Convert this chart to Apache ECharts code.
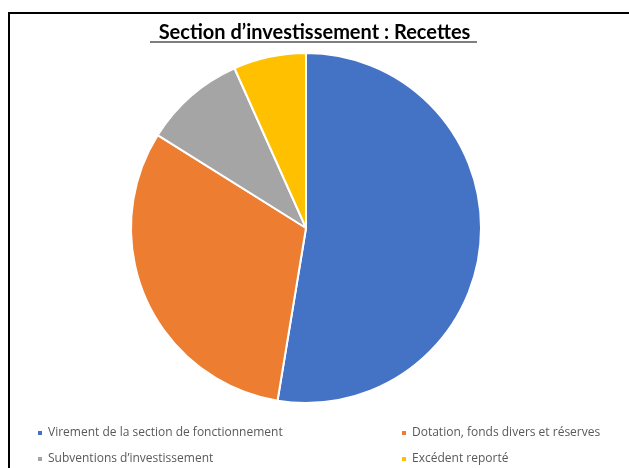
<!DOCTYPE html>
<html>
<head>
<meta charset="utf-8">
<script src="https://cdn.jsdelivr.net/npm/echarts@6/dist/echarts.min.js"></script>
<style>
  html, body { margin: 0; padding: 0; background: #fff; }
  #chart { width: 629px; height: 468px; }
</style>
</head>
<body>
<div id="chart"></div>
<script>
// données (parts en %)
const categories = [
  'Virement de la section de fonctionnement',
  'Dotation, fonds divers et réserves',
  'Subventions d\u2019investissement',
  'Excédent reporté'
]
const values = [52.6, 31.3, 9.4, 6.7]
const colors = ['#4472c4', '#ed7d31', '#a5a5a5', '#ffc000']

const chart = echarts.init(document.getElementById('chart'))

// légende sur 2 colonnes x 2 lignes : une légende par entrée
const legendPos = [[36, 425], [400, 425], [36, 451], [400, 451]]
const legends = categories.map((name, i) => ({
  data: [name],
  left: legendPos[i][0],
  top: legendPos[i][1],
  padding: 0,
  itemWidth: 6,
  itemHeight: 6,
  icon: 'rect',
  textStyle: {
    fontFamily: 'Open Sans',
    fontSize: 12,
    color: '#595959',
    lineHeight: 16
  }
}))

chart.setOption({
  animation: false,
  color: colors,
  title: {
    text: 'Section d\u2019investissement : Recettes',
    left: 'center',
    top: 18,
    textStyle: {
      fontFamily: 'Lato',
      fontSize: 20,
      fontWeight: 'bold',
      color: '#000'
    }
  },
  legend: legends,
  graphic: [
    {
      // cadre noir
      type: 'rect',
      shape: { x: 9, y: 13, width: 700, height: 500 },
      style: { fill: 'none', stroke: '#000', lineWidth: 2 },
      silent: true
    },
    {
      // soulignement du titre
      type: 'line',
      shape: { x1: 150, y1: 42, x2: 477, y2: 42 },
      style: { stroke: '#000', lineWidth: 1.2 },
      silent: true
    }
  ],
  series: [
    {
      type: 'pie',
      center: [306, 228],
      radius: 175,
      startAngle: 90,
      clockwise: true,
      label: { show: false },
      labelLine: { show: false },
      itemStyle: { borderColor: '#fff', borderWidth: 2 },
      data: categories.map((name, i) => ({ name, value: values[i] }))
    }
  ]
})
</script>
</body>
</html>
